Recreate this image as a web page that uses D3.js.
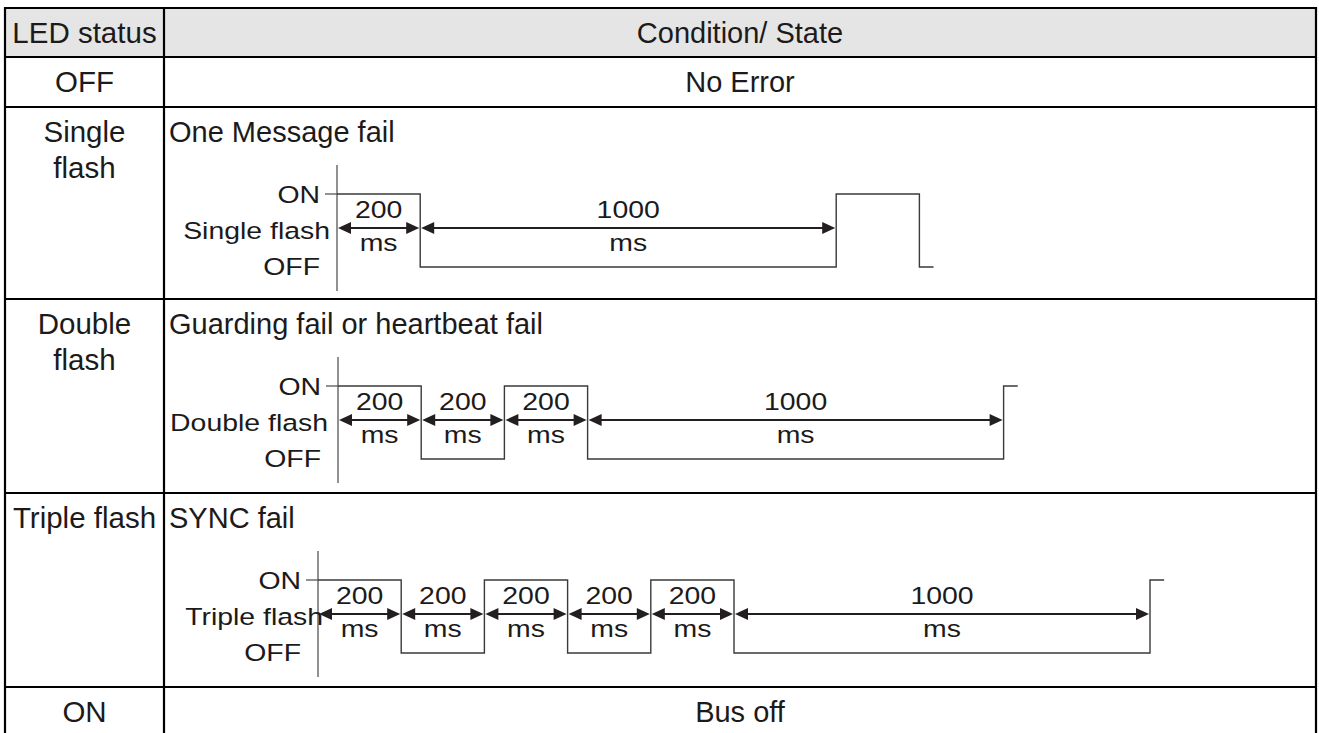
<!DOCTYPE html>
<html lang="en">
<head>
<meta charset="utf-8">
<title>LED status - D3</title>
<script src="https://cdnjs.cloudflare.com/ajax/libs/d3/7.8.5/d3.min.js"></script>
<style>
  html, body { margin: 0; padding: 0; background: #fff; }
  svg { display: block; font-family: "Liberation Sans", Arial, sans-serif; }
</style>
</head>
<body>
<div id="chart"></div>
<script>
////////////////////////////////////////////////////////////////////////////////
// Data
////////////////////////////////////////////////////////////////////////////////

const ledStatus = [["LED status"], ["OFF"], ["Single", "flash"], ["Double", "flash"], ["Triple flash"], ["ON"]];
const conditions = ["Condition/ State", "No Error", "One Message fail",
  "Guarding fail or heartbeat fail", "SYNC fail", "Bus off"];

// level of each step and how long it lasts (ms)
const singleStates = ["ON", "OFF", "ON", "OFF"];
const singleMs = [200, 1000, 200, 34];
const doubleStates = ["ON", "OFF", "ON", "OFF", "ON"];
const doubleMs = [200, 200, 200, 1000, 34];
const tripleStates = ["ON", "OFF", "ON", "OFF", "ON", "OFF", "ON"];
const tripleMs = [200, 200, 200, 200, 200, 1000, 34];
// how many steps get a dimension arrow
const singleMarked = 2, doubleMarked = 4, tripleMarked = 6;

////////////////////////////////////////////////////////////////////////////////
// Layout
////////////////////////////////////////////////////////////////////////////////

const W = 1319, H = 733;
const left = 5, right = 1316, split = 164;
const rowTops = [8, 57, 107, 299, 493, 687, 745];
const ink = "#1c1a1a";

const svg = d3.select("#chart").append("svg")
  .attr("width", W)
  .attr("height", H);

// header fill
svg.append("rect")
  .attr("x", left).attr("y", rowTops[0])
  .attr("width", right - left).attr("height", rowTops[1] - rowTops[0])
  .attr("fill", "#e5e5e5");

// grid
svg.selectAll(".hline")
  .data(rowTops.slice(0, 6))
  .enter().append("line")
  .attr("class", "hline")
  .attr("x1", left - 1).attr("x2", right + 1)
  .attr("y1", d => d).attr("y2", d => d)
  .attr("stroke", "#000").attr("stroke-width", 2.2);

svg.selectAll(".vline")
  .data([left, split, right])
  .enter().append("line")
  .attr("class", "vline")
  .attr("x1", d => d).attr("x2", d => d)
  .attr("y1", rowTops[0] - 1).attr("y2", H + 5)
  .attr("stroke", "#000").attr("stroke-width", 2.2);

// first column text
ledStatus.forEach(function(lines, r) {
  lines.forEach(function(t, k) {
    svg.append("text")
      .attr("x", (left + split) / 2)
      .attr("y", rowTops[r] + 35 + k * 36)
      .attr("text-anchor", "middle")
      .attr("font-size", 29.5)
      .attr("fill", ink)
      .text(t);
  });
});

// second column text (centred when there is no diagram)
conditions.forEach(function(t, r) {
  const centred = [0, 1, 5].indexOf(r) >= 0;
  svg.append("text")
    .attr("x", centred ? (split + right) / 2 : split + 5)
    .attr("y", rowTops[r] + 35)
    .attr("text-anchor", centred ? "middle" : "start")
    .attr("font-size", 29)
    .attr("fill", ink)
    .text(t);
});

////////////////////////////////////////////////////////////////////////////////
// Flash diagrams
////////////////////////////////////////////////////////////////////////////////

const waves = [
  {row: 2, name: "Single flash", states: singleStates, ms: singleMs, marked: singleMarked, axisX: 337, nameEnd: 330},
  {row: 3, name: "Double flash", states: doubleStates, ms: doubleMs, marked: doubleMarked, axisX: 338, nameEnd: 328},
  {row: 4, name: "Triple flash", states: tripleStates, ms: tripleMs, marked: tripleMarked, axisX: 318, nameEnd: 323}
];

// the diagram lettering is a little wider than the font
function wideText(g, x, y, anchor, t) {
  return g.append("text")
    .attr("transform", "translate(" + x + "," + y + ") scale(1.16,1)")
    .attr("text-anchor", anchor)
    .attr("font-size", 24.5)
    .attr("fill", ink)
    .text(t);
}

waves.forEach(function(w) {
  const top = rowTops[w.row];
  const g = svg.append("g");

  const xScale = d3.scaleLinear().domain([0, 1000]).range([w.axisX, w.axisX + 416]);
  const yScale = d3.scaleOrdinal().domain(["ON", "OFF"]).range([top + 87, top + 160]);
  const arrowY = top + 121;

  const ends = d3.cumsum(w.ms);
  const starts = [0].concat(Array.from(ends).slice(0, -1));

  // vertical axis and the ON tick
  g.append("line")
    .attr("x1", w.axisX).attr("x2", w.axisX)
    .attr("y1", top + 58).attr("y2", top + 184)
    .attr("stroke", "#555").attr("stroke-width", 1.3);
  g.append("line")
    .attr("x1", w.axisX - 12).attr("x2", w.axisX)
    .attr("y1", yScale("ON")).attr("y2", yScale("ON"))
    .attr("stroke", "#555").attr("stroke-width", 1.3);

  // square wave
  const pts = [];
  w.states.forEach(function(s, i) {
    pts.push([xScale(starts[i]), yScale(s)]);
    pts.push([xScale(ends[i]), yScale(s)]);
  });
  g.append("path")
    .attr("d", d3.line()(pts))
    .attr("fill", "none")
    .attr("stroke", "#3a3a3a")
    .attr("stroke-width", 1.4);

  // level and name labels
  wideText(g, w.axisX - 17, yScale("ON") + 9, "end", "ON");
  wideText(g, w.nameEnd, arrowY + 11, "end", w.name);
  wideText(g, w.axisX - 17, yScale("OFF") + 8, "end", "OFF");

  // dimension arrows
  const headLen = 13, headHalf = 6;
  for (let i = 0; i < w.marked; i++) {
    const x0 = xScale(starts[i]) + 1, x1 = xScale(ends[i]) - 1;
    g.append("line")
      .attr("x1", x0 + headLen - 1).attr("x2", x1 - headLen + 1)
      .attr("y1", arrowY).attr("y2", arrowY)
      .attr("stroke", "#231f20").attr("stroke-width", 2);
    g.append("path")
      .attr("d", "M" + x0 + "," + arrowY + "L" + (x0 + headLen) + "," + (arrowY - headHalf) +
                 "L" + (x0 + headLen) + "," + (arrowY + headHalf) + "Z")
      .attr("fill", "#231f20");
    g.append("path")
      .attr("d", "M" + x1 + "," + arrowY + "L" + (x1 - headLen) + "," + (arrowY - headHalf) +
                 "L" + (x1 - headLen) + "," + (arrowY + headHalf) + "Z")
      .attr("fill", "#231f20");

    const mid = (xScale(starts[i]) + xScale(ends[i])) / 2;
    wideText(g, mid, arrowY - 10, "middle", String(w.ms[i]));
    wideText(g, mid, arrowY + 23, "middle", "ms");
  }
});
</script>
</body>
</html>
